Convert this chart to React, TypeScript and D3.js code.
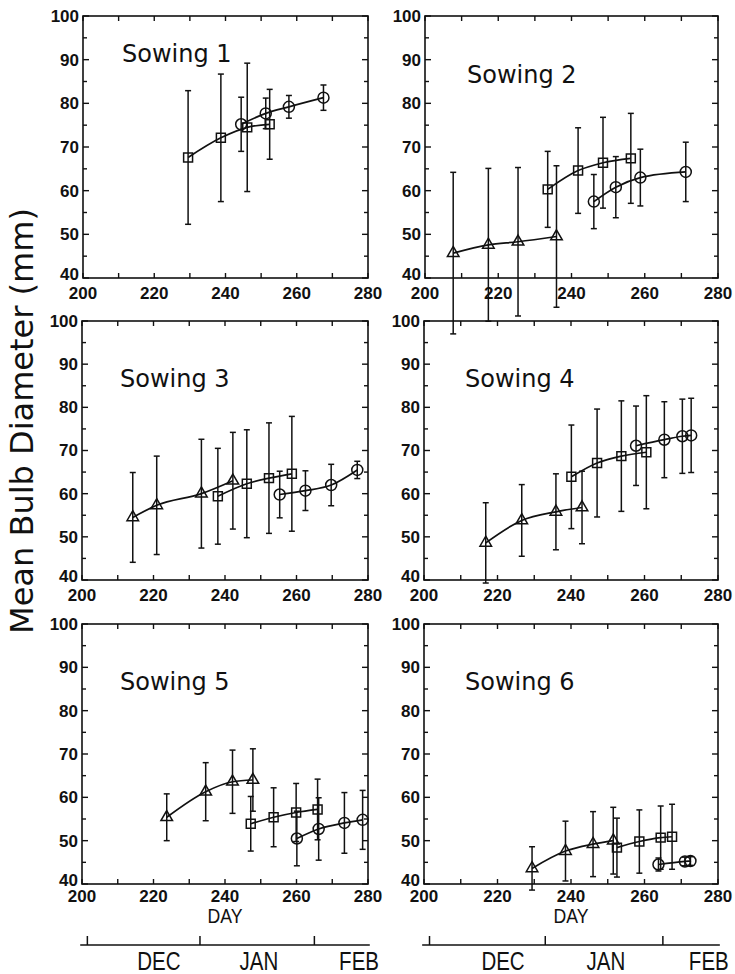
import React from 'react';
import * as d3 from 'd3';

// ---------- data ----------
// Sowing 1
const s1SquareDay = [229.5, 238.7, 246.1, 252.4];
const s1SquareMean = [67.6, 72.1, 74.5, 75.2];
const s1SquareErr = [15.3, 14.6, 14.7, 8.0];
const s1CircleDay = [244.4, 251.3, 257.8, 267.5];
const s1CircleMean = [75.2, 77.7, 79.2, 81.3];
const s1CircleErr = [6.2, 3.5, 2.6, 2.9];
// Sowing 2
const s2TriangleDay = [207.7, 217.3, 225.4, 235.9];
const s2TriangleMean = [45.7, 47.6, 48.3, 49.5];
const s2TriangleErr = [18.5, 17.5, 17.0, 16.2];
const s2SquareDay = [233.5, 241.8, 248.6, 256.2];
const s2SquareMean = [60.3, 64.6, 66.4, 67.4];
const s2SquareErr = [8.7, 9.8, 10.4, 10.3];
const s2CircleDay = [246.1, 252.1, 258.8, 271.2];
const s2CircleMean = [57.5, 60.8, 63.0, 64.3];
const s2CircleErr = [6.2, 7.0, 6.5, 6.8];
// Sowing 3
const s3TriangleDay = [214.2, 220.9, 233.4, 242.2];
const s3TriangleMean = [54.5, 57.3, 60.0, 63.0];
const s3TriangleErr = [10.4, 11.4, 12.6, 11.2];
const s3SquareDay = [238.0, 246.1, 252.3, 258.7];
const s3SquareMean = [59.4, 62.3, 63.6, 64.6];
const s3SquareErr = [11.1, 12.5, 12.8, 13.3];
const s3CircleDay = [255.3, 262.5, 269.7, 277.0];
const s3CircleMean = [59.8, 60.7, 62.0, 65.5];
const s3CircleErr = [5.4, 4.6, 4.8, 2.0];
// Sowing 4
const s4TriangleDay = [216.8, 226.6, 235.9, 243.0];
const s4TriangleMean = [48.6, 53.8, 55.8, 56.8];
const s4TriangleErr = [9.3, 8.3, 8.8, 8.4];
const s4SquareDay = [240.1, 247.1, 253.7, 260.5];
const s4SquareMean = [63.9, 67.1, 68.7, 69.6];
const s4SquareErr = [12.0, 12.5, 12.8, 13.1];
const s4CircleDay = [257.7, 265.4, 270.3, 272.7];
const s4CircleMean = [71.1, 72.5, 73.3, 73.5];
const s4CircleErr = [9.2, 8.8, 8.6, 8.6];
// Sowing 5
const s5TriangleDay = [223.7, 234.6, 242.1, 247.8];
const s5TriangleMean = [55.4, 61.3, 63.6, 64.0];
const s5TriangleErr = [5.4, 6.7, 7.3, 7.2];
const s5SquareDay = [247.2, 253.6, 259.9, 265.9];
const s5SquareMean = [53.9, 55.4, 56.5, 57.2];
const s5SquareErr = [6.3, 6.8, 6.7, 7.0];
const s5CircleDay = [260.1, 266.2, 273.4, 278.5];
const s5CircleMean = [50.5, 52.7, 54.1, 54.8];
const s5CircleErr = [6.3, 7.2, 7.0, 6.8];
// Sowing 6
const s6TriangleDay = [229.4, 238.5, 246.0, 251.5];
const s6TriangleMean = [43.6, 47.6, 49.2, 50.0];
const s6TriangleErr = [5.0, 6.9, 7.5, 7.7];
const s6SquareDay = [252.5, 258.6, 264.4, 267.5];
const s6SquareMean = [48.4, 49.8, 50.7, 50.9];
const s6SquareErr = [6.8, 7.3, 7.3, 7.5];
const s6CircleDay = [263.8, 271.0, 272.5];
const s6CircleMean = [44.5, 45.2, 45.3];
const s6CircleErr = [1.5, 1.0, 1.0];

const sowingTitles = ['Sowing 1', 'Sowing 2', 'Sowing 3', 'Sowing 4', 'Sowing 5', 'Sowing 6'];
const xTickLabels = [200, 220, 240, 260, 280];
const yTickLabels = [40, 50, 60, 70, 80, 90, 100];
const monthLabels = ['DEC', 'JAN', 'FEB'];
const monthLabelDays = [221.5, 249.5, 277.5];
const monthTickDays = [201.5, 233, 265];
const monthAxisExtent = [199.5, 280.5];
const xAxisTitle = 'DAY';
const yAxisTitle = 'Mean Bulb Diameter (mm)';

type Shape = 'triangle' | 'square' | 'circle';
type Series = { shape: Shape; day: number[]; mean: number[]; err: number[] };

const mk = (shape: Shape, day: number[], mean: number[], err: number[]): Series => ({ shape, day, mean, err });

const sowingSeries: Series[][] = [
  [mk('square', s1SquareDay, s1SquareMean, s1SquareErr), mk('circle', s1CircleDay, s1CircleMean, s1CircleErr)],
  [mk('triangle', s2TriangleDay, s2TriangleMean, s2TriangleErr), mk('square', s2SquareDay, s2SquareMean, s2SquareErr), mk('circle', s2CircleDay, s2CircleMean, s2CircleErr)],
  [mk('triangle', s3TriangleDay, s3TriangleMean, s3TriangleErr), mk('square', s3SquareDay, s3SquareMean, s3SquareErr), mk('circle', s3CircleDay, s3CircleMean, s3CircleErr)],
  [mk('triangle', s4TriangleDay, s4TriangleMean, s4TriangleErr), mk('square', s4SquareDay, s4SquareMean, s4SquareErr), mk('circle', s4CircleDay, s4CircleMean, s4CircleErr)],
  [mk('triangle', s5TriangleDay, s5TriangleMean, s5TriangleErr), mk('square', s5SquareDay, s5SquareMean, s5SquareErr), mk('circle', s5CircleDay, s5CircleMean, s5CircleErr)],
  [mk('triangle', s6TriangleDay, s6TriangleMean, s6TriangleErr), mk('square', s6SquareDay, s6SquareMean, s6SquareErr), mk('circle', s6CircleDay, s6CircleMean, s6CircleErr)],
];

// ---------- layout ----------
const W = 735;
const H = 974;
const layouts = [
  { left: 83, right: 368, top: 16, bottom: 278, lx: 39, ly: 46, xl: 21 },
  { left: 425, right: 718, top: 16, bottom: 278, lx: 42, ly: 67, xl: 21 },
  { left: 82, right: 368, top: 321, bottom: 580, lx: 38, ly: 66, xl: 21 },
  { left: 424, right: 718, top: 321, bottom: 580, lx: 41, ly: 66, xl: 21 },
  { left: 82, right: 368, top: 624, bottom: 884, lx: 38, ly: 66, xl: 18 },
  { left: 424, right: 718, top: 624, bottom: 884, lx: 41, ly: 66, xl: 18 },
];

const TICK_FONT = '"Liberation Sans", Arial, sans-serif';
const TITLE_FONT = '"DejaVu Sans", sans-serif';
const INK = '#111';

const symbolFor = (s: Shape) => {
  if (s === 'triangle') return d3.symbol().type(d3.symbolTriangle).size(58)();
  if (s === 'square') return d3.symbol().type(d3.symbolSquare).size(80)();
  return d3.symbol().type(d3.symbolCircle).size(95)();
};

function Panel({ idx }: { idx: number }) {
  const L = layouts[idx];
  const x = d3.scaleLinear().domain([200, 280]).range([L.left, L.right]);
  const y = d3.scaleLinear().domain([40, 100]).range([L.bottom, L.top]);
  const dayTicks = d3.range(200, 281, 10);
  const valTicks = d3.range(40, 101, 5);
  const series = sowingSeries[idx];
  return (
    <g>
      <rect x={L.left} y={L.top} width={L.right - L.left} height={L.bottom - L.top} fill="none" stroke={INK} strokeWidth={1.6} />
      {dayTicks.map((d) => (
        <g key={'xt' + d}>
          <line x1={x(d)} x2={x(d)} y1={L.bottom} y2={L.bottom - 5} stroke={INK} strokeWidth={1.4} />
          <line x1={x(d)} x2={x(d)} y1={L.top} y2={L.top + 5} stroke={INK} strokeWidth={1.4} />
        </g>
      ))}
      {valTicks.map((v) => {
        const len = v % 10 === 0 ? 6 : 4;
        return (
          <g key={'yt' + v}>
            <line x1={L.left} x2={L.left + len} y1={y(v)} y2={y(v)} stroke={INK} strokeWidth={1.4} />
            <line x1={L.right} x2={L.right - len} y1={y(v)} y2={y(v)} stroke={INK} strokeWidth={1.4} />
          </g>
        );
      })}
      {xTickLabels.map((d) => (
        <text key={'xl' + d} x={x(d)} y={L.bottom + L.xl} textAnchor="middle" fontFamily={TICK_FONT} fontWeight="bold" fontSize={17} fill={INK}>
          {d}
        </text>
      ))}
      {yTickLabels.map((v, i) => (
        <text key={'yl' + v} x={L.left - 4} y={y(v) - (i === 0 ? 4 : 0)} dy="0.35em" textAnchor="end" fontFamily={TICK_FONT} fontWeight="bold" fontSize={17} fill={INK}>
          {v}
        </text>
      ))}
      <text x={L.left + L.lx} y={L.top + L.ly} fontFamily={TITLE_FONT} fontSize={24} fill={INK}>
        {sowingTitles[idx]}
      </text>
      {series.map((s, si) => {
        const pts: [number, number][] = s.day.map((d, i) => [x(d), y(s.mean[i])]);
        const path = d3.line().curve(d3.curveMonotoneX)(pts) || '';
        const sym = symbolFor(s.shape) || '';
        return (
          <g key={'s' + si}>
            <path d={path} fill="none" stroke={INK} strokeWidth={1.7} />
            {s.day.map((d, i) => {
              const cx = x(d);
              const y1 = y(s.mean[i] + s.err[i]);
              const y2 = y(s.mean[i] - s.err[i]);
              return (
                <g key={'e' + i}>
                  <line x1={cx} x2={cx} y1={y1} y2={y2} stroke={INK} strokeWidth={1.5} />
                  <line x1={cx - 3} x2={cx + 3} y1={y1} y2={y1} stroke={INK} strokeWidth={1.5} />
                  <line x1={cx - 3} x2={cx + 3} y1={y2} y2={y2} stroke={INK} strokeWidth={1.5} />
                </g>
              );
            })}
            {s.day.map((d, i) => (
              <path key={'m' + i} d={sym} transform={`translate(${x(d)},${y(s.mean[i])})`} fill="none" stroke={INK} strokeWidth={1.5} />
            ))}
          </g>
        );
      })}
      {idx >= 4 && (
        <text x={(L.left + L.right) / 2} y={L.bottom + 39} textAnchor="middle" fontFamily={TICK_FONT} fontSize={20} textLength={35} lengthAdjust="spacingAndGlyphs" fill={INK}>
          {xAxisTitle}
        </text>
      )}
      {idx >= 4 && (
        <g>
          <line x1={x(monthAxisExtent[0])} x2={x(monthAxisExtent[1])} y1={945} y2={945} stroke={INK} strokeWidth={1.5} />
          {monthTickDays.map((d) => (
            <line key={'mt' + d} x1={x(d)} x2={x(d)} y1={945} y2={936} stroke={INK} strokeWidth={1.5} />
          ))}
          {monthLabels.map((m, i) => (
            <text key={m} transform={`translate(${x(monthLabelDays[i])},970) scale(0.82,1)`} textAnchor="middle" fontFamily={TICK_FONT} fontSize={25} fill={INK}>
              {m}
            </text>
          ))}
        </g>
      )}
    </g>
  );
}

export default function App() {
  return (
    <svg width={W} height={H} viewBox={`0 0 ${W} ${H}`} style={{ position: 'absolute', left: 0, top: 0, background: '#fff' }}>
      <rect width={W} height={H} fill="#fff" />
      {layouts.map((_, i) => (
        <Panel key={i} idx={i} />
      ))}
      <text transform="translate(33,421) rotate(-90)" textAnchor="middle" fontFamily={TITLE_FONT} fontSize={32} fill={INK}>
        {yAxisTitle}
      </text>
    </svg>
  );
}
